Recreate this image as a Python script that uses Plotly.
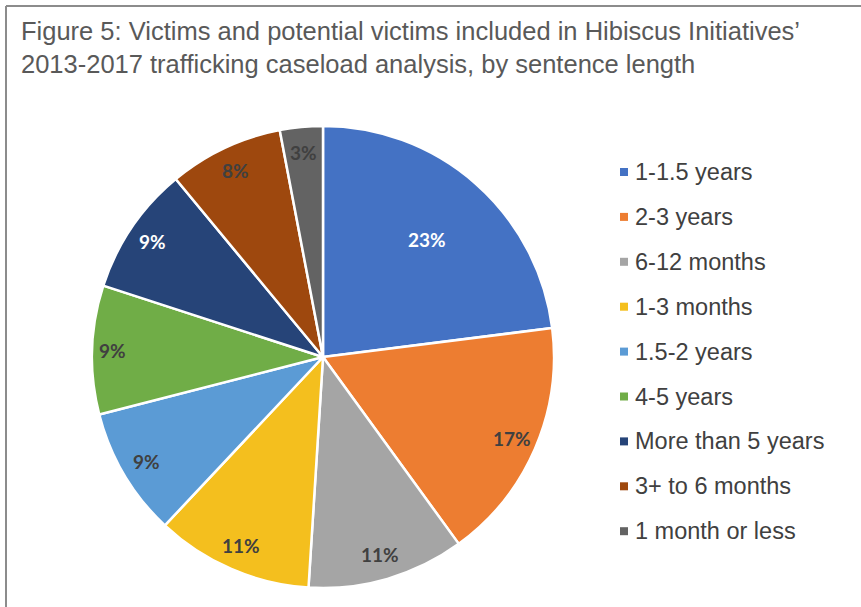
import math
import plotly.graph_objects as go

categories = ["1-1.5 years", "2-3 years", "6-12 months", "1-3 months", "1.5-2 years",
              "4-5 years", "More than 5 years", "3+ to 6 months", "1 month or less"]
values = [23, 17, 11, 11, 9, 9, 9, 8, 3]
colors = ["#4472C4", "#ED7D31", "#A5A5A5", "#F4BF1E", "#5B9BD5",
          "#70AD47", "#264478", "#9E480E", "#636363"]
label_colors = ["#FFFFFF", "#404040", "#404040", "#404040", "#404040",
                "#404040", "#FFFFFF", "#404040", "#404040"]
label_radius = [0.68, 0.89, 0.89, 0.89, 0.89, 0.91, 0.89, 0.89, 0.89]
title_lines = ["Figure 5: Victims and potential victims included in Hibiscus Initiatives\u2019",
               "2013-2017 trafficking caseload analysis, by sentence length"]

W, H = 861, 607
CX, CY, R = 323, 357, 231  # pie centre / radius in pixels

fig = go.Figure()
fig.add_trace(go.Pie(
    labels=categories,
    values=values,
    sort=False,
    direction="clockwise",
    rotation=0,
    marker=dict(colors=colors, line=dict(color="white", width=2.5)),
    textinfo="none",
    domain=dict(x=[(CX - R) / W, (CX + R) / W], y=[(H - CY - R) / H, (H - CY + R) / H]),
    showlegend=False,
    hoverinfo="label+percent",
))

annotations = []
total = sum(values)
cum = 0
for v, col, fr in zip(values, label_colors, label_radius):
    mid = (cum + v / 2) / total * 2 * math.pi
    cum += v
    px = CX + fr * R * math.sin(mid)
    py = CY - fr * R * math.cos(mid)
    annotations.append(dict(
        text=f"{round(v / total * 100)}%", x=px / W, y=1 - py / H, xref="paper", yref="paper",
        xanchor="center", yanchor="middle", showarrow=False,
        font=dict(family="Lato", size=19, color=col, weight="bold"),
    ))

annotations.append(dict(
    text="<br>".join(title_lines), x=19 / W, y=1 - 15 / H, xref="paper", yref="paper",
    xanchor="left", yanchor="top", align="left", showarrow=False,
    font=dict(family="Liberation Sans, Arial", size=25.5, color="#595959"),
))

shapes = [
    dict(type="line", xref="paper", yref="paper", x0=6 / W, x1=1, y0=1 - 6 / H, y1=1 - 6 / H,
         line=dict(color="#8C8C8C", width=2)),
    dict(type="line", xref="paper", yref="paper", x0=6 / W, x1=6 / W, y0=0, y1=1 - 6 / H,
         line=dict(color="#8C8C8C", width=2)),
]

leg_top, leg_step = 172, 44.9
for i, (cat, col) in enumerate(zip(categories, colors)):
    yc = leg_top + i * leg_step
    shapes.append(dict(type="rect", xref="paper", yref="paper",
                       x0=620 / W, x1=628 / W, y0=1 - (yc + 4) / H, y1=1 - (yc - 4) / H,
                       fillcolor=col, line=dict(width=0)))
    annotations.append(dict(
        text=cat, x=633 / W, y=1 - yc / H, xref="paper", yref="paper",
        xanchor="left", yanchor="middle", showarrow=False,
        font=dict(family="Liberation Sans, Arial", size=23.5, color="#404040"),
    ))

fig.update_layout(
    width=W, height=H,
    margin=dict(l=0, r=0, t=0, b=0),
    paper_bgcolor="white", plot_bgcolor="white",
    annotations=annotations, shapes=shapes,
)

fig.write_html("out.html", config={"displayModeBar": False},
               post_script="document.body.style.margin='0px';")
